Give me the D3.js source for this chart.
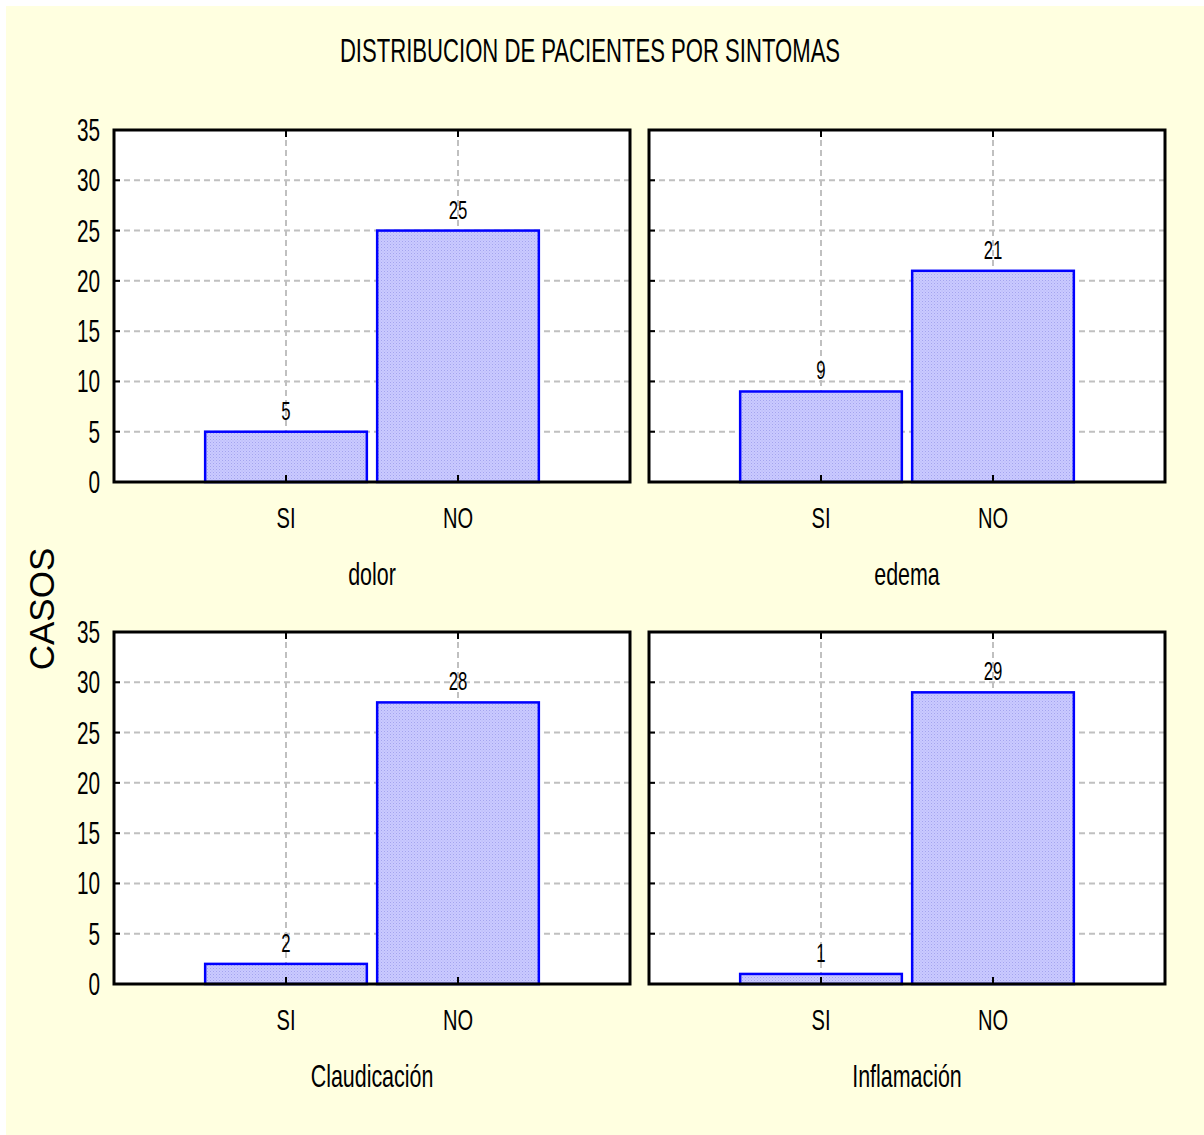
<!DOCTYPE html>
<html><head><meta charset="utf-8">
<script src="https://cdn.jsdelivr.net/npm/d3@7"></script>
<style>html,body{margin:0;padding:0;background:#fff;}svg{display:block;}</style>
</head><body>
<svg id="chart" width="1204" height="1135"></svg>
<script>
const chartTitle = "DISTRIBUCION DE PACIENTES POR SINTOMAS";
const yAxisLabel = "CASOS";
const symptoms = ["dolor", "edema", "Claudicación", "Inflamación"];
const categories = ["SI", "NO"];
const siValues = [5, 9, 2, 1];
const noValues = [25, 21, 28, 29];
const yTicks = [0, 5, 10, 15, 20, 25, 30, 35];

const svg = d3.select("#chart");
const SX = 0.67; // horizontal condensation of text
const font = "'Liberation Sans', Arial, sans-serif";

svg.append("rect").attr("x", 6).attr("y", 6).attr("width", 1198).attr("height", 1129).attr("fill", "#FFFFE0");

const defs = svg.append("defs");
const pat = defs.append("pattern").attr("id", "hatch").attr("patternUnits", "userSpaceOnUse").attr("width", 3).attr("height", 3);
pat.append("rect").attr("width", 3).attr("height", 3).attr("fill", "#cacaff");
pat.append("rect").attr("x", 0).attr("y", 0).attr("width", 1).attr("height", 1).attr("fill", "#a4a4ee");
pat.append("rect").attr("x", 1.5).attr("y", 1.5).attr("width", 1).attr("height", 1).attr("fill", "#b4b4f4");

function ctext(parent, x, y, str, size, anchor, rot) {
  const g = parent.append("g").attr("transform", `translate(${x},${y})` + (rot ? ` rotate(${rot})` : ""));
  g.append("text").attr("transform", rot ? null : `scale(${SX},1)`)
    .attr("text-anchor", anchor || "middle").attr("font-family", font).attr("font-size", size)
    .attr("fill", "#000").text(str);
  return g;
}

ctext(svg, 590, 62, chartTitle, 33);
ctext(svg, 42, 609, yAxisLabel, 35, "middle", -90).select("text").attr("dy", "0.35em");

const panelW = 516, panelH = 352;
const panels = [
  {x: 114, y: 130}, {x: 649, y: 130}, {x: 114, y: 632}, {x: 649, y: 632}
];

const y = d3.scaleLinear().domain([0, 35]).range([panelH, 0]);
const x = d3.scalePoint().domain(categories).range([panelW / 3, 2 * panelW / 3]);
const barW = x.step() * 0.94;

symptoms.forEach((name, i) => {
  const p = panels[i];
  const g = svg.append("g").attr("transform", `translate(${p.x},${p.y})`);
  const vals = [siValues[i], noValues[i]];
  const data = categories.map((c, j) => ({cat: c, v: vals[j]}));

  g.append("rect").attr("width", panelW).attr("height", panelH).attr("fill", "#fff");

  // grid
  g.selectAll(".hg").data(yTicks.filter(t => t > 0 && t < 35)).join("line")
    .attr("x1", 0).attr("x2", panelW).attr("y1", d => y(d)).attr("y2", d => y(d))
    .attr("stroke", "#c0c0c0").attr("stroke-width", 2).attr("stroke-dasharray", "6,4");
  g.selectAll(".vg").data(categories).join("line")
    .attr("x1", d => x(d)).attr("x2", d => x(d)).attr("y1", 0).attr("y2", panelH)
    .attr("stroke", "#c0c0c0").attr("stroke-width", 2).attr("stroke-dasharray", "6,4");

  // bars
  g.selectAll(".bar").data(data).join("rect")
    .attr("x", d => x(d.cat) - barW / 2).attr("width", barW)
    .attr("y", d => y(d.v)).attr("height", d => y(0) - y(d.v))
    .attr("fill", "url(#hatch)").attr("stroke", "#0000ff").attr("stroke-width", 2.5);

  // value labels
  data.forEach(d => ctext(g, x(d.cat), y(d.v) - 12, String(d.v), 25));

  // frame
  g.append("rect").attr("width", panelW).attr("height", panelH).attr("fill", "none")
    .attr("stroke", "#000").attr("stroke-width", 3);

  // ticks
  g.selectAll(".yt").data(yTicks).join("line")
    .attr("x1", 0).attr("x2", 6).attr("y1", d => y(d)).attr("y2", d => y(d))
    .attr("stroke", "#000").attr("stroke-width", 2);
  g.selectAll(".bt").data(categories).join("line")
    .attr("x1", d => x(d)).attr("x2", d => x(d)).attr("y1", panelH).attr("y2", panelH - 7)
    .attr("stroke", "#000").attr("stroke-width", 2);
  g.selectAll(".tt").data(categories).join("line")
    .attr("x1", d => x(d)).attr("x2", d => x(d)).attr("y1", 0).attr("y2", 7)
    .attr("stroke", "#000").attr("stroke-width", 2);

  // y tick labels on left panels
  if (i % 2 === 0) {
    yTicks.forEach(t => ctext(g, -14, y(t) + 11, String(t), 31, "end"));
  }

  // category labels
  categories.forEach(c => ctext(g, x(c), panelH + 46, c, 30));
  ctext(g, panelW / 2, panelH + 103, name, 32);
});
</script>
</body></html>
